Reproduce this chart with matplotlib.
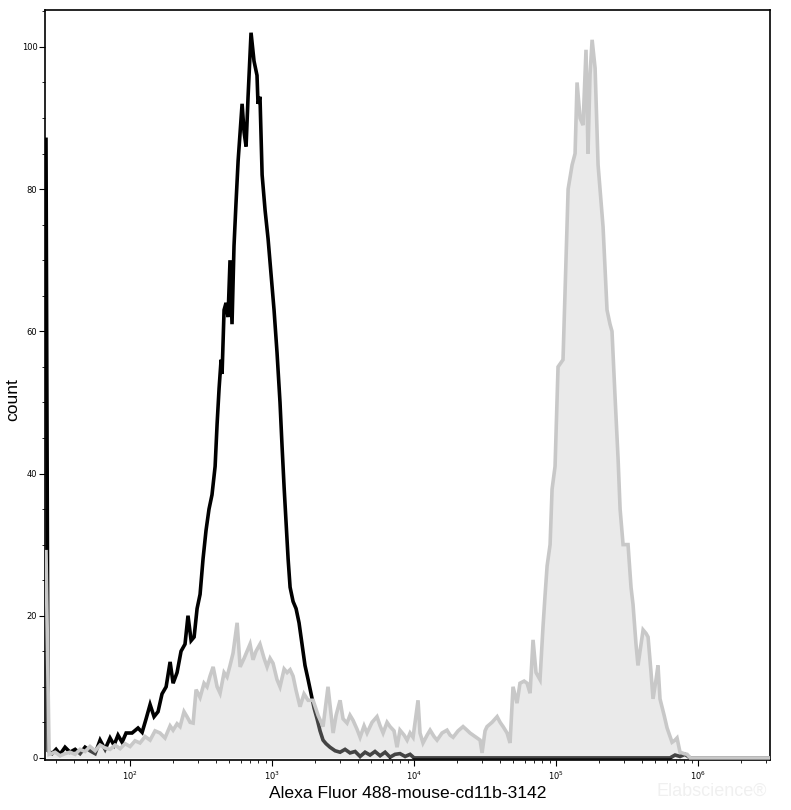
import numpy as np
import matplotlib
matplotlib.use("Agg")
import matplotlib.pyplot as plt
from matplotlib.ticker import FixedLocator, LogLocator, NullFormatter, MultipleLocator

# ---- data (x as log10 intensity, y as count) ----
black_logx = [1.408, 1.423, 1.451, 1.479, 1.507, 1.542, 1.577, 1.613, 1.648, 1.683,
              1.718, 1.754, 1.789, 1.824, 1.859, 1.887, 1.915, 1.944, 1.972, 2.014,
              2.056, 2.085, 2.113, 2.141, 2.169, 2.197, 2.225, 2.254, 2.282, 2.303,
              2.331, 2.359, 2.387, 2.408, 2.430, 2.451, 2.472, 2.493, 2.514, 2.535,
              2.556, 2.577, 2.599, 2.613, 2.627, 2.641, 2.648, 2.662, 2.676, 2.690,
              2.704, 2.718, 2.732, 2.746, 2.761, 2.775, 2.789, 2.803, 2.817, 2.831,
              2.852, 2.873, 2.894, 2.901, 2.915, 2.930, 2.951, 2.972, 2.993, 3.014,
              3.035, 3.056, 3.070, 3.085, 3.099, 3.113, 3.127, 3.148, 3.169, 3.190,
              3.211, 3.232, 3.254, 3.275, 3.296, 3.317, 3.338, 3.359, 3.380, 3.408,
              3.444, 3.479, 3.514, 3.549, 3.585, 3.620, 3.655, 3.690, 3.725, 3.761,
              3.796, 3.831, 3.866, 3.901, 3.937, 3.972, 4.000, 5.803, 5.838, 5.873,
              5.908, 5.944, 6.507]
black_count = [87, 1.0, 0.6, 1.2, 0.5, 1.5, 0.8, 1.2, 0.6, 1.5,
               1.0, 0.6, 2.5, 1.2, 2.8, 1.8, 3.2, 2.2, 3.5, 3.5,
               4.2, 3.6, 5.5, 7.5, 5.8, 6.5, 9.0, 10.0, 13.5, 10.5,
               12.0, 15.0, 16.0, 20.0, 16.5, 17.0, 21.0, 23.0, 28.0, 32.0,
               35.0, 37.0, 41.0, 47.0, 52.0, 56.0, 54.0, 63.0, 64.0, 62.0,
               70.0, 61.0, 72.0, 78.0, 84.0, 88.0, 92.0, 88.0, 86.0, 93.0,
               102.0, 98.0, 96.0, 92.0, 93.0, 82.0, 77.0, 73.0, 68.0, 63.0,
               57.0, 50.0, 44.0, 38.0, 33.0, 28.0, 24.0, 22.0, 21.0, 19.0,
               16.0, 13.0, 11.0, 9.0, 7.0, 5.5, 3.8, 2.5, 2.0, 1.5,
               1.0, 0.8, 1.2, 0.7, 0.9, 0.2, 0.8, 0.4, 0.9, 0.3,
               0.8, 0.1, 0.5, 0.6, 0.2, 0.5, 0.0, 0.0, 0.4, 0.2,
               0.5, 0.0, 0.0]

gray_logx = [1.408, 1.430, 1.472, 1.507, 1.542, 1.577, 1.613, 1.648, 1.683, 1.718,
             1.754, 1.789, 1.824, 1.859, 1.894, 1.930, 1.965, 2.000, 2.035, 2.070,
             2.106, 2.141, 2.176, 2.211, 2.246, 2.282, 2.303, 2.331, 2.352, 2.380,
             2.401, 2.423, 2.444, 2.465, 2.493, 2.521, 2.542, 2.563, 2.585, 2.613,
             2.634, 2.662, 2.683, 2.704, 2.725, 2.754, 2.775, 2.803, 2.824, 2.845,
             2.866, 2.887, 2.915, 2.944, 2.965, 2.986, 3.007, 3.035, 3.056, 3.085,
             3.106, 3.127, 3.148, 3.169, 3.197, 3.225, 3.254, 3.289, 3.324, 3.359,
             3.394, 3.430, 3.451, 3.479, 3.500, 3.528, 3.549, 3.570, 3.599, 3.620,
             3.648, 3.669, 3.704, 3.739, 3.761, 3.782, 3.810, 3.831, 3.859, 3.880,
             3.901, 3.930, 3.951, 3.972, 3.993, 4.028, 4.042, 4.063, 4.092, 4.113,
             4.141, 4.162, 4.197, 4.232, 4.254, 4.275, 4.310, 4.345, 4.373, 4.394,
             4.430, 4.465, 4.479, 4.500, 4.514, 4.549, 4.585, 4.606, 4.627, 4.655,
             4.676, 4.697, 4.725, 4.746, 4.775, 4.796, 4.817, 4.838, 4.859, 4.887,
             4.908, 4.923, 4.937, 4.958, 4.972, 4.993, 5.014, 5.049, 5.070, 5.085,
             5.113, 5.134, 5.148, 5.169, 5.190, 5.211, 5.225, 5.239, 5.254, 5.275,
             5.296, 5.331, 5.359, 5.380, 5.394, 5.415, 5.437, 5.451, 5.472, 5.507,
             5.528, 5.542, 5.563, 5.577, 5.599, 5.613, 5.634, 5.648, 5.669, 5.683,
             5.704, 5.718, 5.732, 5.761, 5.782, 5.803, 5.817, 5.838, 5.852, 5.873,
             5.901, 5.923, 5.944, 6.507]
gray_count = [29, 0.5, 0.8, 0.3, 0.6, 0.8, 0.5, 1.2, 0.9, 1.6,
              1.0, 1.8, 1.4, 1.2, 1.8, 1.3, 2.0, 1.6, 2.4, 2.1,
              3.0, 2.5, 3.8, 3.5, 2.8, 4.5, 3.9, 4.8, 4.4, 6.5,
              5.8, 5.0, 4.9, 9.6, 8.5, 10.5, 10.0, 11.5, 12.8, 10.0,
              9.1, 12.0, 11.4, 13.0, 14.7, 19.0, 12.8, 14.0, 15.0, 16.0,
              13.8, 15.0, 16.0, 14.0, 12.8, 14.0, 13.3, 11.0, 10.0, 12.5,
              12.0, 12.4, 11.5, 9.5, 7.2, 9.0, 8.1, 8.1, 6.0, 4.4,
              10.0, 3.5, 6.0, 8.1, 5.5, 4.9, 6.0, 5.3, 4.0, 2.9,
              4.5, 3.5, 5.0, 5.8, 4.5, 3.5, 5.0, 4.4, 3.8, 1.5,
              3.9, 3.2, 2.5, 3.5, 2.9, 8.1, 3.5, 2.1, 3.2, 3.9,
              3.0, 2.5, 3.5, 3.9, 3.2, 2.9, 3.8, 4.4, 3.9, 3.5,
              3.0, 2.5, 0.7, 3.8, 4.4, 5.0, 5.8, 5.0, 4.4, 3.5,
              2.1, 10.0, 7.7, 10.5, 10.8, 10.5, 9.1, 16.6, 12.0, 11.0,
              18.4, 23.0, 27.0, 30.0, 37.8, 41.0, 55.0, 56.0, 70.0, 80.0,
              83.4, 85.0, 95.0, 90.0, 89.0, 99.6, 85.0, 96.0, 101.0, 97.0,
              83.4, 74.7, 63.0, 61.0, 60.0, 51.0, 42.0, 35.0, 30.0, 30.0,
              24.0, 21.6, 16.0, 13.0, 16.0, 18.0, 17.5, 17.0, 12.0, 8.3,
              11.0, 13.0, 8.3, 6.0, 4.2, 3.0, 2.2, 2.5, 2.8, 0.8,
              0.6, 0.5, 0.0, 0.0]

x_tick_exps = [2, 3, 4, 5, 6]
y_ticks = [0, 20, 40, 60, 80, 100]

black_x = np.power(10.0, black_logx)
gray_x = np.power(10.0, gray_logx)

fig = plt.figure(figsize=(7.91, 8.10), dpi=100)
ax = fig.add_axes([0.0569, 0.0617, 0.9166, 0.926])

ax.plot(black_x, black_count, color='black', lw=2.6, zorder=2, solid_joinstyle='miter')
ax.fill_between(gray_x, 0, gray_count, color=(0.77, 0.77, 0.77), alpha=0.35, lw=0, zorder=2.5)
ax.plot(gray_x, gray_count, color='#c8c8c8', lw=2.6, zorder=3, solid_joinstyle='miter')

ax.set_xscale('log')
ax.set_xlim(10 ** 1.401, 10 ** 6.507)
ax.set_ylim(-0.3, 105.2)

ax.xaxis.set_major_locator(FixedLocator([10.0 ** e for e in x_tick_exps]))
ax.set_xticklabels([r'$10^{%d}$' % e for e in x_tick_exps])
ax.xaxis.set_minor_locator(LogLocator(base=10, subs=np.arange(2, 10)))
ax.xaxis.set_minor_formatter(NullFormatter())
ax.set_yticks(y_ticks)
ax.yaxis.set_minor_locator(MultipleLocator(5))

ax.tick_params(axis='both', which='major', length=4, width=0.8, labelsize=6)
ax.tick_params(axis='x', which='major', pad=3)
ax.tick_params(axis='y', which='major', pad=1.5)
ax.tick_params(axis='both', which='minor', length=2, width=0.6)
for s in ax.spines.values():
    s.set_linewidth(1.2)

ax.set_xlabel('Alexa Fluor 488-mouse-cd11b-3142', fontsize=12.6, family='Liberation Sans', labelpad=3)
ax.set_ylabel('count', fontsize=12.6, family='Liberation Sans')
ax.yaxis.set_label_coords(-0.034, 0.48)

# faint watermark
fig.text(0.900, 0.023, 'Elabscience\u00ae', fontsize=13, color='#f0f0f0',
         ha='center', va='center', family='Liberation Sans', zorder=0)

fig.savefig('out.png', dpi=100)
